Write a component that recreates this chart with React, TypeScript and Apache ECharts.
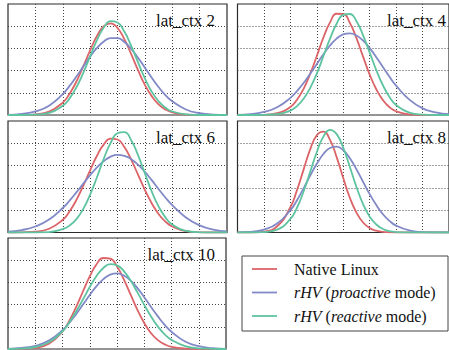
import React, { useEffect, useRef } from "react";
import * as echarts from "echarts";

const XS = [0, 0.5, 1, 1.5, 2, 2.25, 2.5, 2.75, 3, 3.25, 3.5, 3.75, 4, 4.25, 4.5, 4.75, 5, 5.25, 5.5, 5.75, 6, 6.5, 7, 7.5, 8];

const PANEL_TITLES = ["lat_ctx 2", "lat_ctx 4", "lat_ctx 6", "lat_ctx 8", "lat_ctx 10"];
const SERIES_NAMES = ["Native Linux", "rHV (proactive mode)", "rHV (reactive mode)"];
const LEGEND_RICH = ["Native Linux", "{i|rHV} ({i|proactive} mode)", "{i|rHV} ({i|reactive} mode)"];

const NATIVE_2 = [0, 0, 0.03, 0.15, 0.56, 0.96, 1.51, 2.19, 2.91, 3.56, 4.0, 4.13, 3.92, 3.42, 2.74, 2.02, 1.36, 0.85, 0.48, 0.25, 0.12, 0.02, 0, 0, 0];
const PROACTIVE_2 = [0.01, 0.05, 0.16, 0.42, 0.94, 1.31, 1.73, 2.18, 2.63, 3.02, 3.31, 3.46, 3.46, 3.29, 2.98, 2.58, 2.13, 1.68, 1.26, 0.9, 0.62, 0.25, 0.08, 0.02, 0.01];
const REACTIVE_2 = [0, 0, 0.02, 0.1, 0.42, 0.75, 1.25, 1.9, 2.64, 3.37, 3.94, 4.23, 4.17, 3.76, 3.11, 2.37, 1.65, 1.05, 0.62, 0.33, 0.16, 0.03, 0, 0, 0];

const NATIVE_4 = [0, 0, 0.01, 0.08, 0.36, 0.69, 1.18, 1.86, 2.66, 3.49, 4.17, 4.56, 4.55, 4.15, 3.46, 2.63, 1.82, 1.16, 0.67, 0.35, 0.17, 0.03, 0, 0, 0];
const PROACTIVE_4 = [0.01, 0.04, 0.14, 0.35, 0.77, 1.08, 1.44, 1.86, 2.3, 2.74, 3.13, 3.44, 3.63, 3.68, 3.58, 3.35, 3.01, 2.6, 2.16, 1.72, 1.32, 0.69, 0.3, 0.12, 0.04];
const REACTIVE_4 = [0, 0, 0.01, 0.04, 0.2, 0.4, 0.73, 1.22, 1.87, 2.65, 3.44, 4.11, 4.51, 4.55, 4.22, 3.59, 2.81, 2.02, 1.34, 0.81, 0.45, 0.11, 0.02, 0, 0];

const NATIVE_6 = [0, 0.01, 0.04, 0.17, 0.57, 0.95, 1.46, 2.1, 2.79, 3.44, 3.95, 4.21, 4.17, 3.83, 3.27, 2.59, 1.91, 1.31, 0.83, 0.49, 0.27, 0.06, 0.01, 0, 0];
const PROACTIVE_6 = [0.04, 0.11, 0.27, 0.58, 1.1, 1.43, 1.8, 2.19, 2.57, 2.92, 3.2, 3.4, 3.48, 3.44, 3.29, 3.04, 2.72, 2.35, 1.95, 1.57, 1.23, 0.67, 0.32, 0.13, 0.05];
const REACTIVE_6 = [0, 0, 0, 0.02, 0.15, 0.31, 0.6, 1.06, 1.7, 2.48, 3.31, 4.02, 4.45, 4.5, 4.14, 3.47, 2.65, 1.84, 1.17, 0.68, 0.36, 0.07, 0.01, 0, 0];

const NATIVE_8 = [0, 0, 0.04, 0.28, 1.13, 1.9, 2.82, 3.73, 4.36, 4.52, 4.15, 3.38, 2.44, 1.56, 0.89, 0.45, 0.2, 0.08, 0.03, 0.01, 0, 0, 0, 0, 0];
const PROACTIVE_8 = [0.01, 0.03, 0.13, 0.4, 1.0, 1.45, 1.98, 2.55, 3.08, 3.52, 3.79, 3.85, 3.69, 3.33, 2.83, 2.27, 1.72, 1.23, 0.82, 0.52, 0.31, 0.09, 0.02, 0, 0];
const REACTIVE_8 = [0, 0, 0.02, 0.13, 0.61, 1.11, 1.84, 2.72, 3.61, 4.3, 4.6, 4.41, 3.8, 2.94, 2.04, 1.27, 0.71, 0.36, 0.16, 0.06, 0.02, 0, 0, 0, 0];

const NATIVE_10 = [0, 0.01, 0.05, 0.24, 0.79, 1.27, 1.89, 2.59, 3.27, 3.82, 4.1, 4.07, 3.72, 3.14, 2.45, 1.76, 1.17, 0.71, 0.4, 0.21, 0.1, 0.02, 0, 0, 0];
const PROACTIVE_10 = [0.01, 0.05, 0.14, 0.38, 0.85, 1.18, 1.57, 2.0, 2.43, 2.83, 3.15, 3.35, 3.41, 3.31, 3.08, 2.74, 2.33, 1.89, 1.47, 1.09, 0.78, 0.34, 0.13, 0.04, 0.01];
const REACTIVE_10 = [0, 0.02, 0.09, 0.3, 0.8, 1.2, 1.69, 2.23, 2.79, 3.29, 3.65, 3.82, 3.77, 3.51, 3.08, 2.55, 1.99, 1.46, 1.01, 0.66, 0.41, 0.13, 0.03, 0.01, 0];

const PANELS = [
  [NATIVE_2, PROACTIVE_2, REACTIVE_2],
  [NATIVE_4, PROACTIVE_4, REACTIVE_4],
  [NATIVE_6, PROACTIVE_6, REACTIVE_6],
  [NATIVE_8, PROACTIVE_8, REACTIVE_8],
  [NATIVE_10, PROACTIVE_10, REACTIVE_10],
];

const X_MIN = 0, X_MAX = 8, X_STEP = 1;
const Y_MIN = 0, Y_MAX = 5, Y_STEP = 1;

const COLORS = ["#dc6468", "#8189c6", "#5ec4a0"];
const FAMILY = "Liberation Serif";

const GRIDS = [
  { left: 8, top: 4, width: 219, height: 111 },
  { left: 237.5, top: 4, width: 219, height: 111 },
  { left: 8, top: 121, width: 219, height: 111.5 },
  { left: 237.5, top: 121, width: 219, height: 111.5 },
  { left: 8, top: 238, width: 218, height: 111 },
];
const TITLE_RIGHT = [215, 446, 215, 446, 215];

export default function App() {
  const ref = useRef<HTMLDivElement>(null);
  useEffect(() => {
    if (!ref.current) return;
    const chart = echarts.init(ref.current, undefined, { renderer: "svg" });
    const grids = GRIDS.map((g) => ({ ...g, show: true, borderColor: "#2b2b2b", borderWidth: 1.2, backgroundColor: "#fff" }));
    const splitLine = { show: true, showMinLine: false, showMaxLine: false, lineStyle: { color: "#444", width: 1, type: [1, 2] } };
    const xAxis = GRIDS.map((_, i) => ({
      type: "value", gridIndex: i, min: X_MIN, max: X_MAX, interval: X_STEP,
      axisLabel: { show: false }, axisTick: { show: false }, axisLine: { show: false }, splitLine,
    }));
    const yAxis = GRIDS.map((_, i) => ({
      type: "value", gridIndex: i, min: Y_MIN, max: Y_MAX, interval: Y_STEP,
      axisLabel: { show: false }, axisTick: { show: false }, axisLine: { show: false }, splitLine,
    }));
    const series: any[] = [];
    PANELS.forEach((curves, p) => {
      curves.forEach((ys, k) => {
        series.push({
          type: "line", name: SERIES_NAMES[k], xAxisIndex: p, yAxisIndex: p,
          data: XS.map((x, j) => [x, ys[j]]),
          smooth: 0.5, symbol: "none",
          lineStyle: { color: COLORS[k], width: 1.8 }, z: 2 + k,
        });
      });
    });
    const graphic: any[] = [];
    PANEL_TITLES.forEach((t, i) => {
      graphic.push({
        type: "text", z: 10,
        style: { text: t, x: TITLE_RIGHT[i], y: GRIDS[i].top + 16.5, align: "right", verticalAlign: "middle", font: `17px "${FAMILY}", serif`, fill: "#111" },
      });
    });
    graphic.push({ type: "rect", shape: { x: 242, y: 256, width: 206, height: 75 }, style: { fill: "#fff", stroke: "#444", lineWidth: 1 }, z: 10 });
    const rowY = [269, 292.5, 316];
    LEGEND_RICH.forEach((label, k) => {
      graphic.push({ type: "line", shape: { x1: 252, y1: rowY[k], x2: 277, y2: rowY[k] }, style: { stroke: COLORS[k], lineWidth: 1.8 }, z: 11 });
      graphic.push({
        type: "text", z: 11,
        style: {
          text: label, x: 294, y: rowY[k], align: "left", verticalAlign: "middle",
          font: `16px "${FAMILY}", serif`, fontFamily: FAMILY, fontSize: 16, fill: "#111",
          rich: { i: { fontStyle: "italic", fontFamily: FAMILY, fontSize: 16, fill: "#111" } },
        },
      });
    });
    chart.setOption({ animation: false, backgroundColor: "#fff", grid: grids, xAxis, yAxis, series, graphic });
    return () => chart.dispose();
  }, []);
  return <div ref={ref} style={{ position: "fixed", left: 0, top: 0, width: 449, height: 350 }} />;
}
